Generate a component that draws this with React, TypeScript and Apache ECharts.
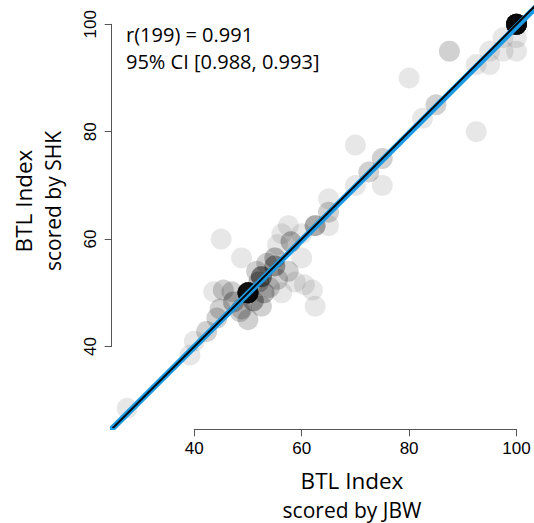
import React, { useEffect, useRef } from "react";
import * as echarts from "echarts";

// Scores (JBW on x, SHK on y) and how many items share each pair
const jbw = [100, 97.5, 100, 100, 97.5, 95, 92.5, 95, 87.5, 80, 85, 82.5, 92.5, 75, 70, 72.5, 75, 70, 65, 65, 62.5, 65,
  57.5, 56.3, 60, 58, 55.5, 45, 48.8, 55, 60, 57.5, 53.5, 52.5, 55.5, 56.3, 62, 62.5, 60.5, 54, 52.5, 58.8, 48.8, 50,
  43.6, 45.4, 47, 44.8, 44.2, 47.3, 50, 48.5, 52, 51.6, 42.3, 40, 39.2, 27.5, 55, 51, 53];
const shk = [100, 97.5, 97.5, 95, 95, 95, 92.5, 92.5, 95, 90, 85, 82.5, 80, 75, 77.5, 72.5, 70, 70, 67.5, 65, 62.5, 62.5,
  62.5, 61, 61, 59.5, 59, 60, 56.5, 56.5, 56.5, 54, 55.5, 53, 52.5, 50, 50.5, 47.5, 51.5, 51, 47.5, 52, 47, 50,
  50.2, 50.5, 50.2, 47, 45.3, 48.3, 45, 46.5, 52, 54, 42.8, 41, 38.4, 28.5, 55, 48.5, 50];
const counts = [30, 1, 1, 1, 1, 1, 1, 1, 2, 1, 2, 1, 1, 2, 1, 2, 1, 1, 1, 2, 4, 1,
  1, 1, 1, 3, 1, 1, 1, 3, 1, 2, 2, 6, 2, 1, 1, 1, 1, 2, 2, 1, 2, 25,
  1, 2, 2, 2, 2, 3, 2, 2, 3, 2, 2, 1, 1, 1, 4, 4, 3];

// Fitted line (blue) and identity line (black)
const fitIntercept = 0.13;
const fitSlope = 0.9947;

const xTicks = [40, 60, 80, 100];
const yTicks = [40, 60, 80, 100];

const statLines = ["r(199) = 0.991", "95% CI [0.988, 0.993]"];
const xTitle = ["BTL Index", "scored by JBW"];
const yTitle = ["BTL Index", "scored by SHK"];

// layout constants
const PX = 5.37;
const X40 = 194.3;
const Y100 = 24.3;
const X_MIN = 25;
const X_MAX = 103.2;
const Y_MIN = 25;
const Y_MAX = 104.5;
const xp = (v: number) => X40 + (v - 40) * PX;
const yp = (v: number) => Y100 + (100 - v) * PX;

export default function App() {
  const ref = useRef<HTMLDivElement>(null);
  useEffect(() => {
    if (!ref.current) return;
    const chart = echarts.init(ref.current, undefined, { renderer: "svg" });
    const pts: number[][] = [];
    jbw.forEach((x, i) => {
      for (let k = 0; k < counts[i]; k++) pts.push([x, shk[i]]);
    });
    const lo = 20, hi = 110;
    const fitLine = [[lo, fitIntercept + fitSlope * lo], [hi, fitIntercept + fitSlope * hi]];
    const idLine = [[lo, lo], [hi, hi]];
    const tickFont = { fontFamily: "Liberation Sans", fontSize: 17, color: "#000" };
    const axisCol = "#555";
    const titleFont = "Open Sans";
    chart.setOption({
      animation: false,
      backgroundColor: "#fff",
      grid: [
        { left: xp(X_MIN), top: yp(Y_MAX), width: (X_MAX - X_MIN) * PX, height: (Y_MAX - Y_MIN) * PX, outerBoundsMode: "none" },
        { left: xp(40), top: 419.3, width: 60 * PX, height: 10, outerBoundsMode: "none" },
        { left: 111.7, top: Y100, width: 10, height: 60 * PX, outerBoundsMode: "none" },
      ],
      xAxis: [
        { gridIndex: 0, type: "value", min: X_MIN, max: X_MAX, show: false },
        {
          gridIndex: 1, type: "value", min: 40, max: 100, interval: 20,
          axisLine: { lineStyle: { color: axisCol, width: 1 } },
          axisTick: { length: 7, lineStyle: { color: axisCol } },
          axisLabel: { ...tickFont, margin: 11, customValues: xTicks },
          splitLine: { show: false },
        },
        { gridIndex: 2, type: "value", show: false },
      ],
      yAxis: [
        { gridIndex: 0, type: "value", min: Y_MIN, max: Y_MAX, show: false },
        { gridIndex: 1, type: "value", show: false },
        {
          gridIndex: 2, type: "value", min: 40, max: 100, interval: 20,
          axisLine: { show: true, lineStyle: { color: axisCol, width: 1 } },
          axisTick: { show: true, length: 7, lineStyle: { color: axisCol } },
          axisLabel: { ...tickFont, margin: 13, rotate: 90, customValues: yTicks },
          splitLine: { show: false },
        },
      ],
      series: [
        {
          type: "scatter", xAxisIndex: 0, yAxisIndex: 0, data: pts, symbolSize: 21, silent: true,
          itemStyle: { color: "rgba(0,0,0,0.12)", borderWidth: 0 },
        },
        {
          type: "line", xAxisIndex: 0, yAxisIndex: 0, data: fitLine, showSymbol: false, clip: true, silent: true,
          lineStyle: { color: "#1b9ae5", width: 6 },
        },
        {
          type: "line", xAxisIndex: 0, yAxisIndex: 0, data: idLine, showSymbol: false, clip: true, silent: true,
          lineStyle: { color: "#000", width: 2 },
        },
      ],
      graphic: [
        { type: "text", left: 126, top: 24, style: { text: statLines[0], font: `20px '${titleFont}'`, fill: "#000" } },
        { type: "text", left: 126, top: 51, style: { text: statLines[1], font: `20px '${titleFont}'`, fill: "#000" } },
        { type: "text", x: 352, y: 480, style: { text: xTitle[0], font: `22.5px '${titleFont}'`, fill: "#000", align: "center", verticalAlign: "middle" } },
        { type: "text", x: 352, y: 510, style: { text: xTitle[1], font: `21px '${titleFont}'`, fill: "#000", align: "center", verticalAlign: "middle" } },
        { type: "text", x: 23, y: 201, rotation: Math.PI / 2, style: { text: yTitle[0], font: `22.5px '${titleFont}'`, fill: "#000", align: "center", verticalAlign: "middle" } },
        { type: "text", x: 53, y: 201, rotation: Math.PI / 2, style: { text: yTitle[1], font: `21px '${titleFont}'`, fill: "#000", align: "center", verticalAlign: "middle" } },
      ],
    });
    return () => chart.dispose();
  }, []);
  return <div ref={ref} style={{ position: "fixed", left: 0, top: 0, width: 534, height: 523 }} />;
}
